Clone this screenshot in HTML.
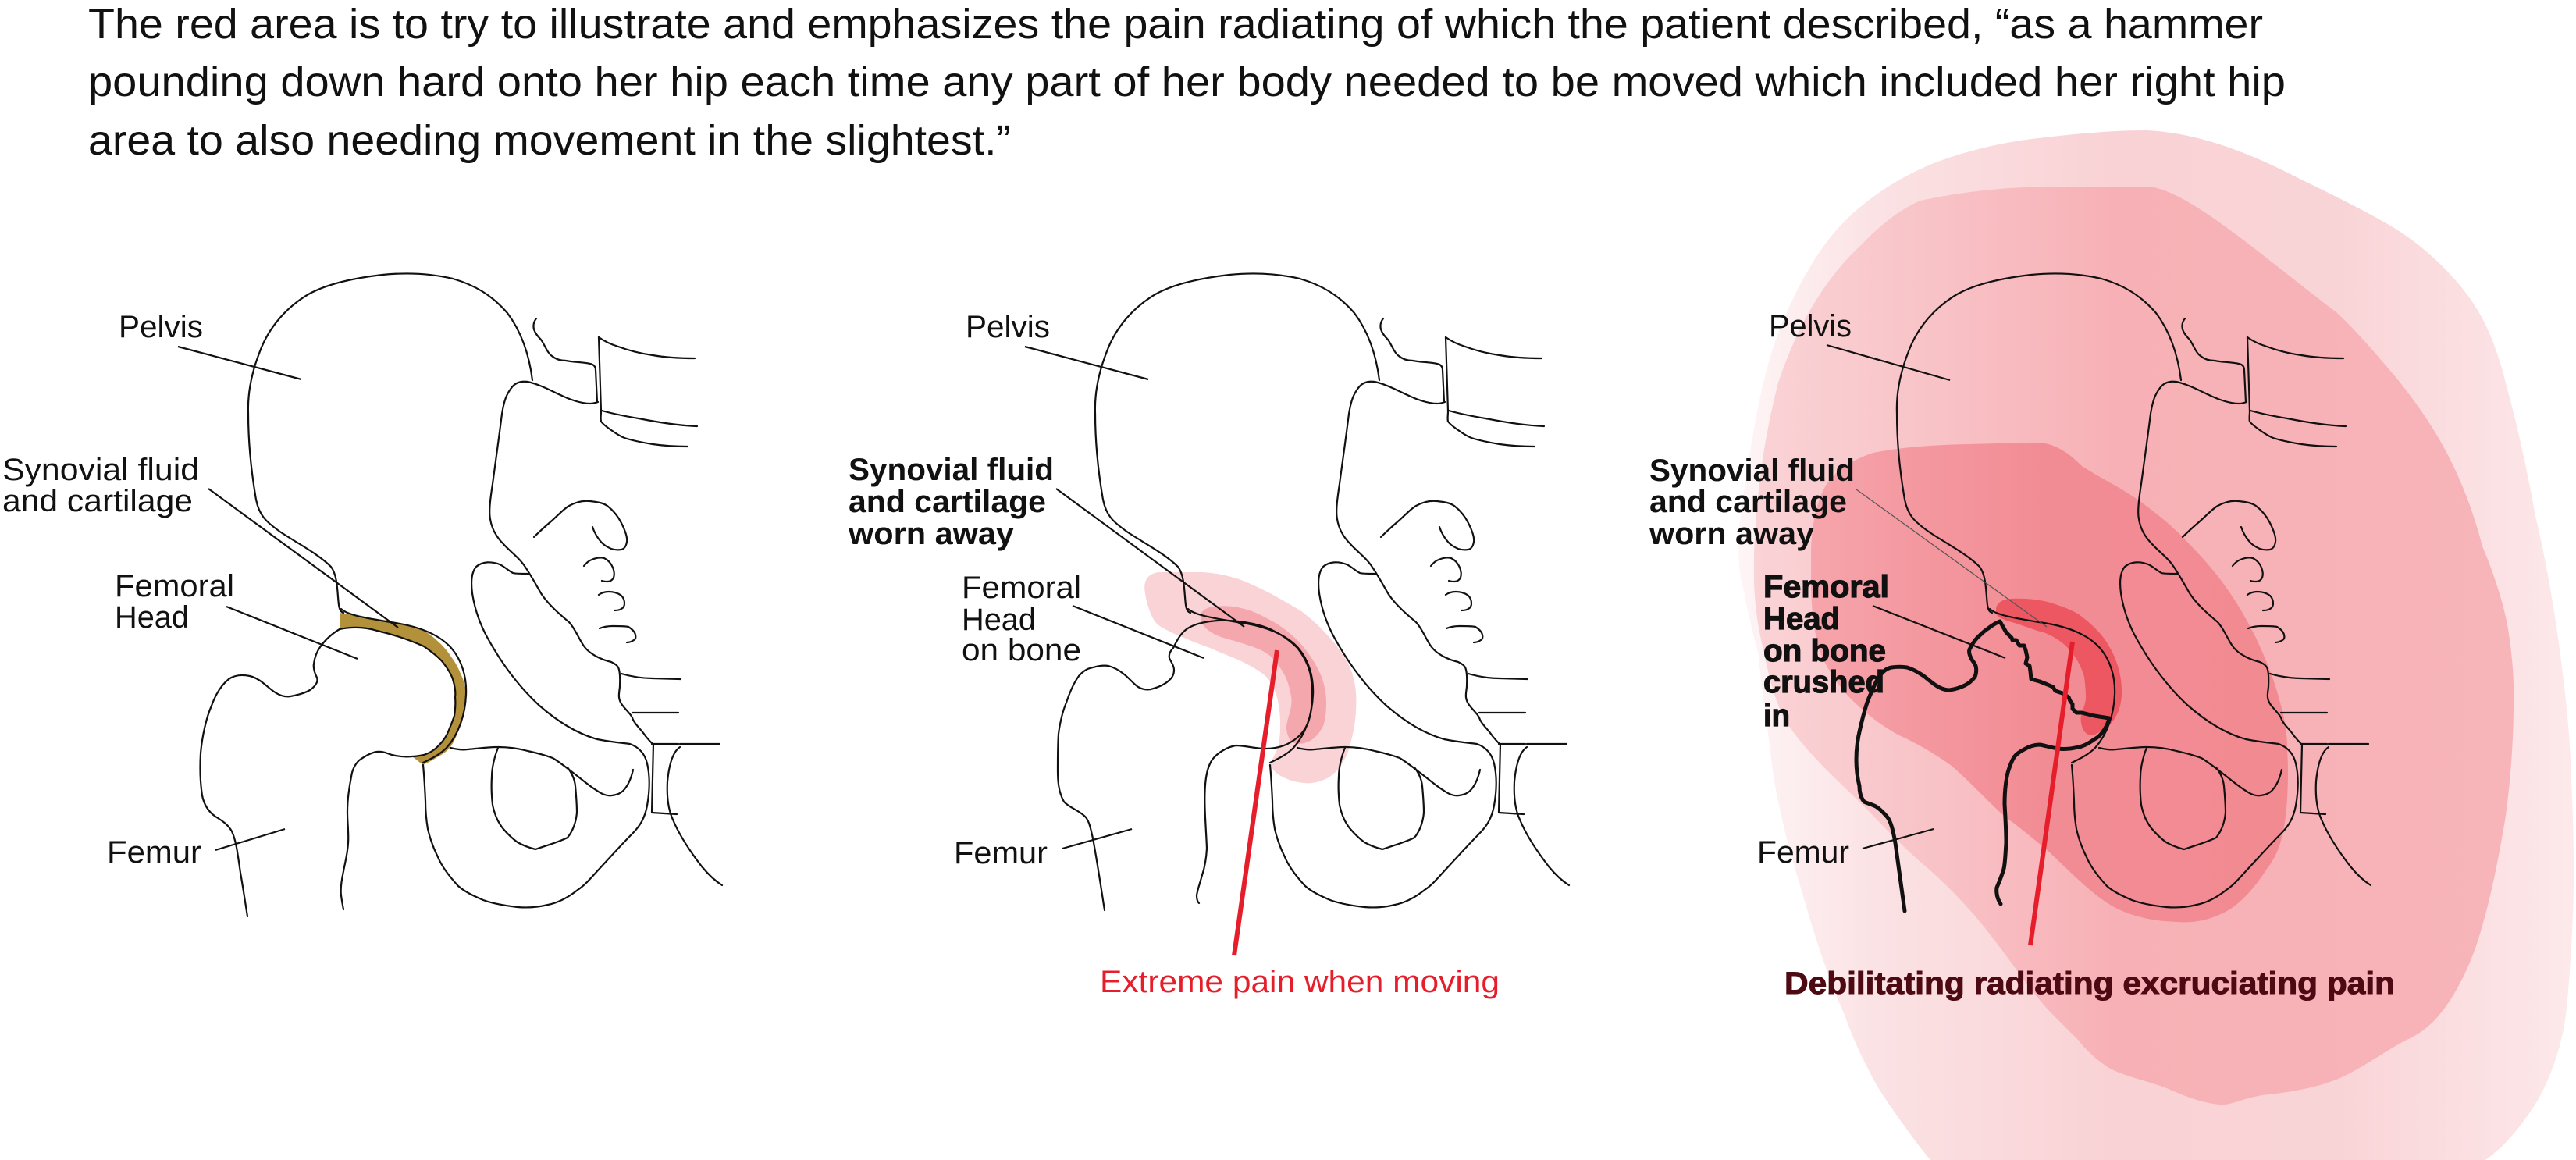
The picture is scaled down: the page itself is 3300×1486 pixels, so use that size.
<!DOCTYPE html>
<html><head><meta charset="utf-8"><style>
html,body{margin:0;padding:0;background:#fff;}
svg{display:block;}
text{font-family:"Liberation Sans",sans-serif;}
</style></head><body>
<svg width="3300" height="1486" viewBox="0 0 3300 1486" xmlns="http://www.w3.org/2000/svg">
<defs>
<linearGradient id="gOuter" gradientUnits="userSpaceOnUse" x1="2220" y1="0" x2="3300" y2="0">
<stop offset="0" stop-color="#fef6f7"/><stop offset="0.17" stop-color="#fbe2e4"/><stop offset="0.45" stop-color="#f9d2d5"/><stop offset="0.72" stop-color="#f9d4d7"/><stop offset="0.95" stop-color="#fce5e7"/><stop offset="1" stop-color="#fde9eb"/>
</linearGradient>
<linearGradient id="gMed" gradientUnits="userSpaceOnUse" x1="2240" y1="0" x2="3230" y2="0">
<stop offset="0" stop-color="#fad4d7"/><stop offset="0.25" stop-color="#f8c2c6"/><stop offset="0.47" stop-color="#f7b1b6"/><stop offset="1" stop-color="#f7b4b9"/>
</linearGradient>
<linearGradient id="gThird" gradientUnits="userSpaceOnUse" x1="2310" y1="0" x2="2935" y2="0">
<stop offset="0" stop-color="#f6a6ac"/><stop offset="0.25" stop-color="#f4979f"/><stop offset="0.5" stop-color="#f28c94"/><stop offset="1" stop-color="#f28a92"/>
</linearGradient>
<g id="pelvis" fill="none" stroke="#111" stroke-width="2.2" stroke-linecap="round" stroke-linejoin="round">
<path d="M 682,487 C 678,455 668,425 650,401 C 630,378 608,365 580,357 C 550,350 520,349 490,352 C 455,356 420,363 395,377 C 368,393 345,418 333,450 C 322,478 317,505 318,530 C 318,565 322,605 328,640 C 332,660 340,668 360,682 C 383,697 408,710 424,726 C 433,738 432,760 434,775 C 435,782 437,784 440,785"/>
<path d="M 437,780 C 445,788 470,792 500,797 C 530,801 560,810 578,830 C 592,846 598,868 597,890 C 596,915 588,940 572,958 C 562,968 550,973 542,977"/>
<path d="M 687,408 C 683,413 683,418 684,422 C 686,428 690,432 693,435 C 698,442 701,452 707,456 C 713,461 720,462 725,462 C 735,464 748,464 756,466 C 761,467 763,470 763,474 L 765,515"/>
<path d="M 655,497 C 660,490 668,488 676,489 C 690,492 705,500 718,506 C 730,512 745,517 756,517 C 760,517 763,516 766,515"/>
<path d="M 767,432 L 770,527 C 770,532 769,536 770,540 C 774,545 779,548 783,551 C 790,556 795,559 800,561 C 812,565 824,567 836,569 C 850,571 866,572 881,572"/>
<path d="M 767,432 C 774,437 782,441 792,444 C 808,450 822,453 836,455 C 853,458 872,459 890,459"/>
<path d="M 771,526 C 785,530 800,533 818,536 C 843,541 868,545 893,546"/>
<path d="M 655,497 C 649,505 646,512 643,530 C 640,555 635,590 631,620 C 628,640 626,655 628,665 C 630,678 636,688 645,697 C 652,705 662,712 669,721 C 677,731 686,748 693,760 C 702,774 717,787 729,797 C 738,807 742,820 749,829 C 756,838 770,845 783,848 C 789,851 792,853 793,858 C 795,866 794,875 794,880 C 793,888 791,895 797,903 C 802,910 809,915 811,922 C 815,930 822,935 827,943 C 831,948 834,951 836,953"/>
<path d="M 837,953 L 835,1041 L 867,1043 M 835,953 L 869,953 M 871,953 L 922,953"/>
<path d="M 871,957 C 862,963 857,980 855,1001 C 854,1020 856,1037 862,1050 C 869,1067 882,1088 899,1110 C 908,1121 917,1129 925,1134"/>
<path d="M 677,735 C 668,735 660,735 657,734 C 650,730 645,725 640,723 C 630,719 618,719 610,726 C 604,733 603,745 605,760 C 608,780 615,800 625,818 C 640,845 660,875 690,903 C 715,925 740,940 765,947 C 785,951 800,952 807,953 C 818,957 826,965 829,978 C 833,995 832,1015 829,1032 C 826,1048 820,1058 810,1068 C 795,1083 780,1100 765,1116 C 755,1127 748,1135 740,1140 C 725,1152 712,1157 702,1159 C 690,1162 675,1163 663,1162 C 645,1160 630,1157 619,1153 C 605,1147 595,1142 587,1135 C 575,1122 566,1110 561,1098 C 553,1082 550,1070 548,1062 C 546,1050 545,1035 545,1026 C 544,1005 543,990 542,980"/>
<path d="M 577,958 C 585,960 592,961 599,960 C 612,959 625,957 638,957 C 650,957 665,959 676,962 C 690,965 700,968 708,971 C 718,977 725,983 733,989 C 745,998 755,1007 765,1013 C 772,1018 778,1020 784,1019 C 792,1018 797,1015 800,1011 C 806,1004 809,995 811,986"/>
<path d="M 638,958 C 633,970 630,985 630,995 C 629,1010 630,1022 631,1031 C 634,1045 638,1053 644,1061 C 650,1068 656,1074 663,1079 C 670,1083 678,1086 686,1088 C 700,1083 715,1079 727,1073 C 735,1063 738,1052 739,1041 C 739,1030 738,1018 737,1007 C 736,997 732,990 727,983"/>
<path d="M 684,688 C 692,680 700,673 707,667 C 715,660 722,652 729,648 C 738,643 747,641 756,642 C 765,643 772,644 778,648 C 787,655 792,662 796,670 C 801,680 804,688 803,694 C 802,700 800,703 796,704 C 790,705 786,704 783,703 C 776,700 772,697 769,693 C 764,687 761,681 759,675"/>
<path d="M 748,725 C 752,720 755,718 758,717 C 765,714 770,714 774,715 C 780,718 783,722 785,727 C 787,732 787,737 786,740 C 784,744 781,745 778,745 C 775,745 773,745 771,744"/>
<path d="M 767,762 C 771,759 775,758 780,758 C 787,758 792,760 796,763 C 799,766 800,769 800,773 C 800,777 798,779 796,780 C 793,782 790,782 787,782"/>
<path d="M 768,805 C 773,803 779,802 785,802 C 795,802 801,802 805,803 C 810,806 813,809 814,813 C 815,817 814,819 812,820 C 809,822 806,823 803,823"/>
<path d="M 796,863 C 810,867 822,869 836,869 L 872,870 M 810,913 L 869,913"/>
</g>
</defs>

<!-- Header -->
<g font-size="54" fill="#111">
<text x="113" y="49" textLength="2786" lengthAdjust="spacingAndGlyphs">The red area is to try to illustrate and emphasizes the pain radiating of which the patient described, “as a hammer</text>
<text x="113" y="123" textLength="2815" lengthAdjust="spacingAndGlyphs">pounding down hard onto her hip each time any part of her body needed to be moved which included her right hip</text>
<text x="113" y="198" textLength="1182" lengthAdjust="spacingAndGlyphs">area to also needing movement in the slightest.”</text>
</g>

<!-- ===== LEFT PANEL ===== -->
<path fill="#b3913a" d="M 435,785 C 450,787 467,790 490,794 C 505,797 520,799 533,803 C 543,807 550,812 557,818 C 565,825 572,832 577,840 C 583,848 587,855 590,863 C 594,871 596,879 597,887 C 598,895 597,903 595,910 C 593,920 590,929 587,937 C 584,945 581,951 577,957 C 572,963 566,967 560,970 C 554,974 548,977 542,980 L 528,969 C 533,969 538,968 543,967 C 549,965 555,962 560,957 C 565,952 569,948 573,940 C 576,933 579,926 582,917 C 583,910 584,902 583,893 C 584,887 583,880 580,870 C 578,864 574,857 567,848 C 561,841 553,835 543,828 C 525,820 505,813 483,808 C 470,805 455,802 435,805 Z"/>
<use href="#pelvis"/>
<path fill="none" stroke="#111" stroke-width="2.2" stroke-linecap="round" stroke-linejoin="round" d="M 317,1174 C 314,1155 311,1135 308,1118 C 305,1098 303,1078 297,1065 C 292,1056 284,1051 276,1046 C 267,1040 261,1030 259,1019 C 256,1000 256,983 257,965 C 259,943 264,920 271,904 C 276,890 283,878 293,870 C 300,865 310,864 320,866 C 333,869 342,880 351,886 C 358,891 365,893 372,892 C 383,890 392,887 397,884 C 404,879 408,874 406,868 C 403,862 401,856 402,850 C 403,843 405,836 410,829 C 417,819 425,812 435,806 C 455,802 470,804 483,808 C 505,813 525,820 543,828 C 553,835 561,841 567,848 C 574,857 578,864 580,870 C 583,880 584,887 583,893 C 584,902 583,910 582,917 C 579,926 576,933 573,940 C 569,948 565,952 560,957 C 555,962 549,965 543,967 C 538,968 533,969 528,969 C 518,970 510,969 502,967 C 496,965 490,962 483,963 C 475,964 467,969 460,974 C 454,980 451,987 450,995 C 447,1010 445,1025 445,1040 C 445,1055 447,1068 446,1080 C 445,1095 442,1105 440,1116 C 437,1130 436,1140 437,1147 C 438,1155 439,1160 440,1165"/>
<g stroke="#111" stroke-width="2.2" fill="none">
<path d="M 228,444 L 386,486"/>
<path d="M 267,626 L 510,804"/>
<path d="M 290,777 L 458,844"/>
<path d="M 276,1089 L 365,1062"/>
</g>
<g font-size="40" fill="#111">
<text x="152" y="432" textLength="108" lengthAdjust="spacingAndGlyphs">Pelvis</text>
<text x="3" y="615" textLength="252" lengthAdjust="spacingAndGlyphs">Synovial fluid</text>
<text x="3" y="655" textLength="244" lengthAdjust="spacingAndGlyphs">and cartilage</text>
<text x="147" y="764" textLength="153" lengthAdjust="spacingAndGlyphs">Femoral</text>
<text x="147" y="804" textLength="95" lengthAdjust="spacingAndGlyphs">Head</text>
<text x="137" y="1105" textLength="121" lengthAdjust="spacingAndGlyphs">Femur</text>
</g>

<!-- ===== MIDDLE PANEL ===== -->
<path fill="#f9d3d6" d="M 1467,760 C 1465,750 1467,742 1472,738 C 1477,734 1482,733 1487,733 L 1540,733 C 1557,734 1573,737 1590,743 C 1603,748 1615,754 1627,760 C 1640,767 1654,775 1667,783 C 1679,792 1690,802 1700,813 C 1711,825 1720,837 1727,850 C 1733,862 1736,875 1737,887 C 1738,902 1737,916 1735,930 C 1733,942 1730,953 1727,963 C 1723,972 1719,980 1713,987 C 1707,993 1700,998 1693,1000 C 1685,1003 1677,1004 1670,1003 C 1661,1002 1653,1000 1647,997 C 1640,994 1635,991 1632,987 C 1629,983 1627,980 1628,977 C 1631,970 1635,964 1637,957 C 1639,949 1640,941 1640,933 C 1640,925 1640,917 1639,910 C 1638,903 1637,896 1635,890 C 1633,884 1630,878 1627,873 C 1623,867 1618,863 1613,860 C 1606,855 1598,851 1590,847 C 1577,841 1563,836 1550,830 C 1536,825 1521,819 1507,813 C 1498,809 1490,805 1483,800 C 1478,795 1475,789 1473,783 C 1470,775 1468,767 1467,760 Z"/>
<path fill="#f4a7ac" d="M 1538,792 C 1537,786 1540,781 1550,778 C 1560,776 1570,776 1580,777 C 1592,779 1603,782 1613,787 C 1625,793 1637,799 1647,807 C 1657,815 1666,823 1673,833 C 1681,843 1688,855 1693,867 C 1697,878 1699,889 1699,900 C 1699,911 1698,921 1695,930 C 1691,938 1686,944 1680,948 C 1675,951 1669,953 1663,953 C 1657,952 1653,950 1652,947 C 1649,941 1648,936 1648,930 C 1649,923 1651,917 1653,910 C 1655,902 1655,895 1653,887 C 1651,877 1648,868 1643,860 C 1638,852 1633,846 1627,840 C 1619,834 1610,830 1600,827 C 1589,823 1578,820 1567,817 C 1558,814 1550,810 1543,803 C 1540,799 1538,796 1538,792 Z"/>
<use href="#pelvis" transform="translate(1085,0)"/>
<path fill="none" stroke="#111" stroke-width="2.2" stroke-linecap="round" stroke-linejoin="round" d="M 1415,1166 C 1411,1140 1405,1100 1400,1074 C 1397,1060 1395,1052 1391,1047 C 1383,1038 1370,1035 1363,1027 C 1356,1015 1355,1000 1355,987 C 1355,970 1355,955 1356,940 C 1358,925 1361,912 1366,900 C 1371,885 1376,874 1382,866 C 1388,859 1394,856 1400,855 C 1407,853 1414,852 1420,853 C 1427,855 1433,858 1439,863 C 1446,868 1452,876 1458,880 C 1463,883 1468,884 1474,883 C 1482,881 1490,878 1496,873 C 1501,869 1504,865 1504,858 C 1504,852 1500,848 1498,843 C 1497,838 1499,834 1503,830 C 1508,820 1512,812 1520,806 C 1530,799 1545,796 1560,795 C 1580,794 1600,797 1617,802 C 1633,807 1650,818 1662,830 C 1672,843 1679,858 1680,873 C 1682,890 1681,905 1678,918 C 1675,932 1666,944 1653,951 C 1643,957 1632,959 1620,959 C 1608,959 1595,955 1583,955 C 1572,957 1560,964 1553,973 C 1547,982 1545,993 1544,1005 C 1542,1030 1545,1060 1546,1087 C 1545,1105 1542,1115 1540,1121 C 1537,1132 1534,1140 1533,1147 C 1533,1152 1534,1155 1536,1157"/>
<g stroke="#111" stroke-width="2.2" fill="none">
<path d="M 1313,444 L 1471,486"/>
<path d="M 1353,626 L 1594,803"/>
<path d="M 1374,776 L 1542,843"/>
<path d="M 1361,1087 L 1450,1062"/>
</g>
<path d="M 1636,833 L 1581,1224" stroke="#e61e2b" stroke-width="6" fill="none"/>
<g font-size="40" fill="#111">
<text x="1237" y="432" textLength="108" lengthAdjust="spacingAndGlyphs">Pelvis</text>
<text x="1087" y="615" font-weight="bold" textLength="263" lengthAdjust="spacingAndGlyphs">Synovial fluid</text>
<text x="1087" y="656" font-weight="bold" textLength="253" lengthAdjust="spacingAndGlyphs">and cartilage</text>
<text x="1087" y="697" font-weight="bold" textLength="212" lengthAdjust="spacingAndGlyphs">worn away</text>
<text x="1232" y="766" textLength="153" lengthAdjust="spacingAndGlyphs">Femoral</text>
<text x="1232" y="807" textLength="95" lengthAdjust="spacingAndGlyphs">Head</text>
<text x="1232" y="846" textLength="153" lengthAdjust="spacingAndGlyphs">on bone</text>
<text x="1222" y="1106" textLength="120" lengthAdjust="spacingAndGlyphs">Femur</text>
<text x="1409" y="1271" fill="#e61e2b" textLength="512" lengthAdjust="spacingAndGlyphs">Extreme pain when moving</text>
</g>

<!-- ===== RIGHT PANEL ===== -->
<path fill="url(#gOuter)" d="M 2750,167 C 2815,170 2880,195 2942,227 C 2985,248 3020,265 3057,286 C 3090,305 3120,330 3141,354 C 3158,372 3170,390 3179,406 C 3193,432 3203,462 3210,491 C 3225,545 3238,605 3248,661 C 3262,720 3272,780 3279,832 C 3288,900 3293,950 3294,1002 C 3297,1060 3298,1120 3296,1172 C 3294,1220 3291,1265 3287,1300 C 3282,1340 3265,1395 3235,1433 C 3220,1455 3200,1475 3184,1486 L 2473,1486 C 2460,1470 2452,1460 2443,1447 C 2420,1415 2405,1395 2392,1367 C 2380,1345 2370,1320 2363,1300 C 2345,1260 2330,1215 2317,1172 C 2305,1130 2292,1090 2282,1045 C 2274,1010 2270,985 2267,955 C 2262,915 2256,880 2253,840 C 2245,810 2238,780 2234,757 C 2229,740 2227,725 2227,707 C 2227,685 2227,675 2230,661 C 2235,620 2242,575 2250,533 C 2258,490 2268,450 2283,414 C 2295,385 2312,350 2333,320 C 2352,292 2375,270 2400,252 C 2430,230 2465,212 2500,201 C 2540,188 2580,180 2620,176 C 2665,171 2705,167 2750,167 Z"/>
<path fill="url(#gMed)" d="M 2460,257 C 2520,244 2580,239 2636,239 L 2750,239 C 2800,240 2900,330 2993,400 C 3020,425 3045,455 3069,483 C 3095,515 3118,548 3136,583 C 3155,620 3170,660 3180,700 C 3195,735 3206,770 3212,800 C 3218,835 3221,870 3220,900 C 3220,950 3216,1000 3210,1045 C 3200,1105 3188,1165 3171,1215 C 3158,1250 3142,1280 3125,1300 C 3110,1318 3095,1327 3081,1333 C 3050,1350 3020,1372 2993,1383 C 2960,1396 2925,1400 2898,1403 C 2870,1408 2855,1417 2843,1415 C 2815,1412 2795,1402 2773,1393 C 2745,1383 2718,1378 2700,1367 C 2685,1357 2672,1345 2663,1333 C 2650,1320 2640,1310 2630,1300 C 2600,1270 2570,1220 2529,1172 C 2505,1145 2485,1125 2460,1104 C 2435,1082 2412,1058 2391,1036 C 2370,1015 2348,995 2330,976 C 2310,955 2295,937 2284,917 C 2272,892 2265,862 2259,832 C 2252,805 2248,775 2247,746 C 2246,705 2249,660 2255,610 C 2260,570 2268,530 2278,490 C 2290,455 2303,425 2320,395 C 2338,365 2358,338 2383,315 C 2405,292 2430,270 2460,257 Z"/>
<path fill="url(#gThird)" d="M 2320,712 C 2320,680 2325,645 2340,620 C 2355,600 2375,588 2400,580 C 2440,572 2480,570 2520,569 C 2560,568 2590,567 2620,568 C 2640,572 2655,585 2667,597 C 2690,612 2712,622 2734,637 C 2760,655 2782,673 2801,693 C 2820,713 2836,730 2850,750 C 2866,772 2879,795 2890,817 C 2903,845 2914,872 2921,900 C 2927,920 2930,940 2930,959 C 2932,990 2931,1025 2927,1053 C 2923,1080 2916,1098 2904,1113 C 2890,1135 2875,1152 2858,1164 C 2835,1178 2812,1183 2789,1181 C 2760,1180 2735,1175 2712,1164 C 2695,1155 2680,1143 2666,1130 C 2650,1116 2635,1100 2620,1087 C 2602,1072 2585,1058 2567,1045 C 2545,1025 2522,1000 2500,981 C 2478,965 2455,952 2433,942 C 2410,930 2385,910 2367,891 C 2350,872 2338,852 2330,832 C 2323,805 2320,775 2320,746 Z"/>
<path fill="#ed5762" d="M 2557,780 C 2558,772 2565,768 2575,767 C 2595,766 2615,768 2630,773 C 2648,779 2660,784 2667,790 C 2680,800 2690,810 2697,820 C 2705,832 2710,843 2713,853 C 2717,866 2718,877 2718,887 C 2718,897 2716,906 2713,913 C 2709,922 2703,929 2697,933 C 2690,938 2685,941 2680,942 C 2674,942 2670,938 2668,933 C 2665,925 2665,918 2667,913 C 2670,905 2672,899 2672,893 C 2672,884 2671,875 2670,867 C 2667,857 2663,848 2657,840 C 2651,832 2645,825 2637,820 C 2628,814 2620,810 2610,808 C 2598,804 2588,800 2577,797 C 2568,794 2560,792 2557,786 Z"/>
<use href="#pelvis" transform="translate(2112,0)"/>
<path fill="none" stroke="#111" stroke-width="5" stroke-linecap="round" stroke-linejoin="round" d="M 2440,1167 C 2436,1140 2432,1110 2428,1080 C 2425,1062 2422,1052 2418,1047 C 2412,1040 2408,1036 2403,1033 C 2397,1030 2392,1029 2388,1027 C 2384,1022 2382,1015 2382,1007 C 2379,995 2378,985 2378,973 C 2378,958 2380,945 2383,933 C 2386,920 2389,908 2393,897 C 2398,885 2402,875 2407,867 C 2412,860 2417,856 2423,855 C 2430,854 2437,854 2443,855 C 2450,857 2457,861 2463,865 C 2470,870 2475,875 2480,878 C 2486,882 2491,884 2497,884 C 2505,883 2511,881 2517,878 C 2523,875 2527,871 2530,867 C 2532,862 2532,857 2531,853 C 2529,848 2526,846 2525,843 C 2523,839 2522,835 2523,832 C 2526,826 2529,821 2533,817 C 2538,812 2542,808 2547,805 C 2552,801 2557,798 2562,796 L 2570,810 L 2577,817 L 2578,820 L 2583,820 L 2587,827 L 2593,827 L 2595,833 L 2597,842 L 2595,850 L 2600,853 L 2601,860 L 2602,870 L 2613,873 L 2623,877 L 2630,880 L 2633,885 L 2642,888 L 2645,890 L 2650,893 L 2652,898 L 2655,902 L 2655,908 L 2660,913 L 2667,913 L 2683,917 L 2702,920 C 2700,930 2692,943 2683,947 C 2675,953 2668,956 2663,957 C 2650,960 2643,960 2637,959 C 2628,958 2620,955 2613,954 C 2605,954 2598,957 2593,960 C 2587,963 2583,966 2580,970 C 2576,977 2574,983 2572,990 C 2569,1003 2568,1017 2568,1030 C 2569,1047 2570,1063 2570,1080 C 2569,1093 2569,1103 2567,1113 C 2564,1123 2561,1130 2558,1137 C 2557,1145 2559,1152 2563,1158"/>
<g stroke="#111" stroke-width="2.2" fill="none">
<path d="M 2340,442 L 2498,487"/>
<path d="M 2399,776 L 2569,843"/>
<path d="M 2386,1087 L 2477,1062"/>
</g>
<path d="M 2378,627 L 2622,803" stroke="#555" stroke-width="1.2" fill="none"/>
<path d="M 2655,822 L 2601,1211" stroke="#e61e2b" stroke-width="6" fill="none"/>
<g font-size="40" fill="#111">
<text x="2266" y="431" textLength="106" lengthAdjust="spacingAndGlyphs">Pelvis</text>
<text x="2113" y="616" font-weight="bold" textLength="263" lengthAdjust="spacingAndGlyphs">Synovial fluid</text>
<text x="2113" y="656" font-weight="bold" textLength="253" lengthAdjust="spacingAndGlyphs">and cartilage</text>
<text x="2113" y="697" font-weight="bold" textLength="211" lengthAdjust="spacingAndGlyphs">worn away</text>
<g font-weight="bold" stroke="#111" stroke-width="1.2">
<text x="2259" y="765" textLength="161" lengthAdjust="spacingAndGlyphs">Femoral</text>
<text x="2259" y="806" textLength="98" lengthAdjust="spacingAndGlyphs">Head</text>
<text x="2259" y="847" textLength="157" lengthAdjust="spacingAndGlyphs">on bone</text>
<text x="2259" y="887" textLength="155" lengthAdjust="spacingAndGlyphs">crushed</text>
<text x="2259" y="930" textLength="34" lengthAdjust="spacingAndGlyphs">in</text>
</g>
<text x="2251" y="1105" textLength="118" lengthAdjust="spacingAndGlyphs">Femur</text>
<text x="2286" y="1273" font-weight="bold" fill="#4d0a12" stroke="#4d0a12" stroke-width="1" textLength="782" lengthAdjust="spacingAndGlyphs">Debilitating radiating excruciating pain</text>
</g>
</svg>
</body></html>
